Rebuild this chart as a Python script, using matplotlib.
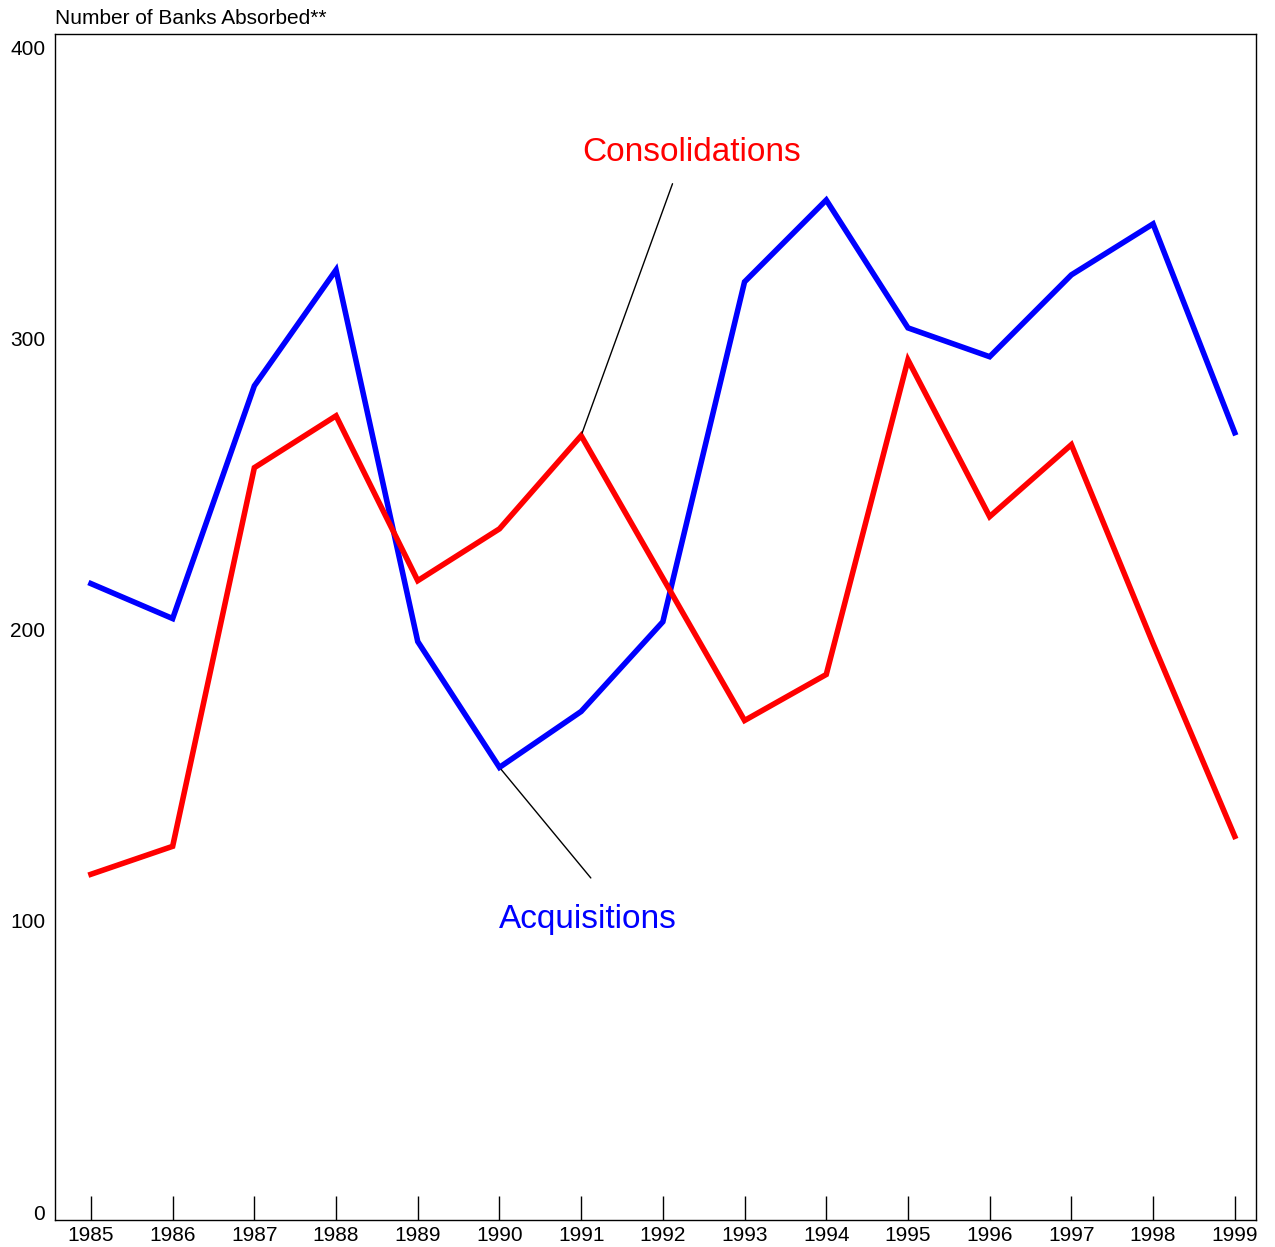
import numpy as np
import matplotlib.pyplot as plt

plt.rcParams['font.family'] = ['Liberation Sans', 'DejaVu Sans']

# Data
years = np.arange(1985, 2000)
acquisitions = [215.8, 203.8, 283.7, 323.5, 195.9, 152.7, 171.9, 202.7,
                319.4, 347.5, 303.6, 293.7, 321.8, 339.3, 267.6]
consolidations = [116.0, 125.6, 255.6, 273.4, 216.8, 234.6, 266.6, 217.7,
                  168.8, 184.6, 292.6, 238.8, 263.5, 195.2, 129.0]
y_ticks = [0, 100, 200, 300, 400]

fig = plt.figure(figsize=(12.75, 12.47), dpi=100)
ax = fig.add_axes([55 / 1275, 1 - 1220 / 1247, 1201 / 1275, 1186 / 1247])

ax.plot(years, acquisitions, color='#0000ff', lw=4, solid_joinstyle='miter')
ax.plot(years, consolidations, color='#ff0000', lw=4, solid_joinstyle='miter')

ax.set_xlim(1984.56, 1999.26)
ax.set_ylim(-2.7, 404.5)

ax.set_yticks(y_ticks)
ax.set_yticklabels([str(v) for v in y_ticks], fontsize=15)
ax.tick_params(axis='y', length=0, pad=7)
for lbl in ax.get_yticklabels():
    lbl.set_va('center_baseline')
ax.set_xticks(years)
ax.set_xticklabels([str(y) for y in years], fontsize=15)
ax.tick_params(axis='x', direction='in', length=17, width=1, pad=4.5)

for s in ax.spines.values():
    s.set_linewidth(1)

# annotations
ax.annotate('', xy=(1991, consolidations[6]), xytext=(1992.13, 354),
            arrowprops=dict(arrowstyle='-', color='black', lw=1))
ax.text(1992.35, 363.8, 'Consolidations', color='#ff0000', fontsize=24,
        ha='center', va='center')
ax.annotate('', xy=(1990, acquisitions[5]), xytext=(1991.14, 114),
            arrowprops=dict(arrowstyle='-', color='black', lw=1))
ax.text(1991.08, 100.5, 'Acquisitions', color='#0000ff', fontsize=24,
        ha='center', va='center')

fig.text(55 / 1275, 1 - 18 / 1247, 'Number of Banks Absorbed**', fontsize=15,
         ha='left', va='center')

fig.savefig('out.png', dpi=100)
